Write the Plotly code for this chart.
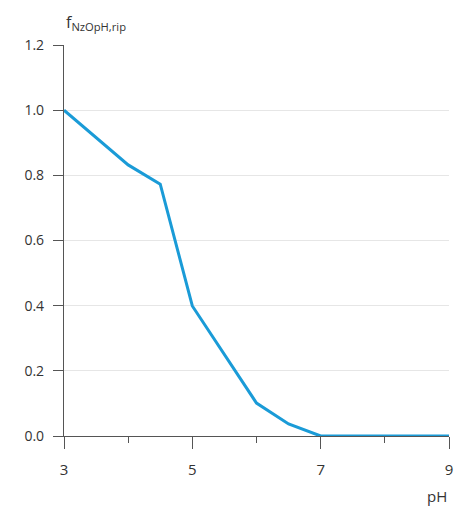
import plotly.graph_objects as go

ph = [3, 4, 4.5, 5, 6, 6.5, 7, 8, 9]
f_vals = [1.0, 0.832, 0.773, 0.399, 0.101, 0.037, 0.0, 0.0, 0.0]
x_ticks = [3, 5, 7, 9]
y_ticks = [0.0, 0.2, 0.4, 0.6, 0.8, 1.0, 1.2]
y_labels = ["0.0", "0.2", "0.4", "0.6", "0.8", "1.0", "1.2"]

font = "Open Sans"
fig = go.Figure()
fig.add_trace(go.Scatter(x=ph, y=f_vals, mode="lines",
                         line=dict(color="#1a9bd7", width=3), showlegend=False))

fig.update_layout(
    width=459, height=517,
    margin=dict(l=64, r=10, t=45, b=81),
    plot_bgcolor="white", paper_bgcolor="white",
    font=dict(family=font, size=14, color="#333333"),
    xaxis=dict(range=[3, 9], tickvals=x_ticks, ticktext=[str(v) for v in x_ticks],
               ticks="outside", ticklen=12, tickwidth=1.2, tickcolor="#555555",
               showline=True, linecolor="#555555", linewidth=1.2,
               showgrid=False, zeroline=False, ticklabelstandoff=8,
               tickfont=dict(size=15), automargin=False, ticklabeloverflow="allow",
               minor=dict(dtick=1, tick0=3, ticks="outside", ticklen=6,
                          tickcolor="#555555", tickwidth=1.2, showgrid=False)),
    yaxis=dict(range=[0, 1.2], tickvals=y_ticks, ticktext=y_labels,
               ticks="outside", ticklen=10, tickwidth=1.2, tickcolor="#555555",
               showline=True, linecolor="#555555", linewidth=1.2,
               showgrid=True, gridcolor="#e6e6e6", gridwidth=1, automargin=False,
               zeroline=False, ticklabelstandoff=6, tickfont=dict(size=14)),
)
fig.add_annotation(text="f<sub>NzOpH,rip</sub>", xref="paper", yref="paper",
                   x=0, y=1, xanchor="left", yanchor="bottom", yshift=9, xshift=0,
                   showarrow=False, font=dict(size=16, color="#333333"))
fig.add_annotation(text="pH", xref="paper", yref="paper",
                   x=1, y=0, xanchor="right", yanchor="top", yshift=-48,
                   showarrow=False, font=dict(size=15, color="#333333"))
fig.write_html("out.html", config={"displayModeBar": False},
               post_script="document.body.style.margin='0';document.body.style.overflow='hidden';")
